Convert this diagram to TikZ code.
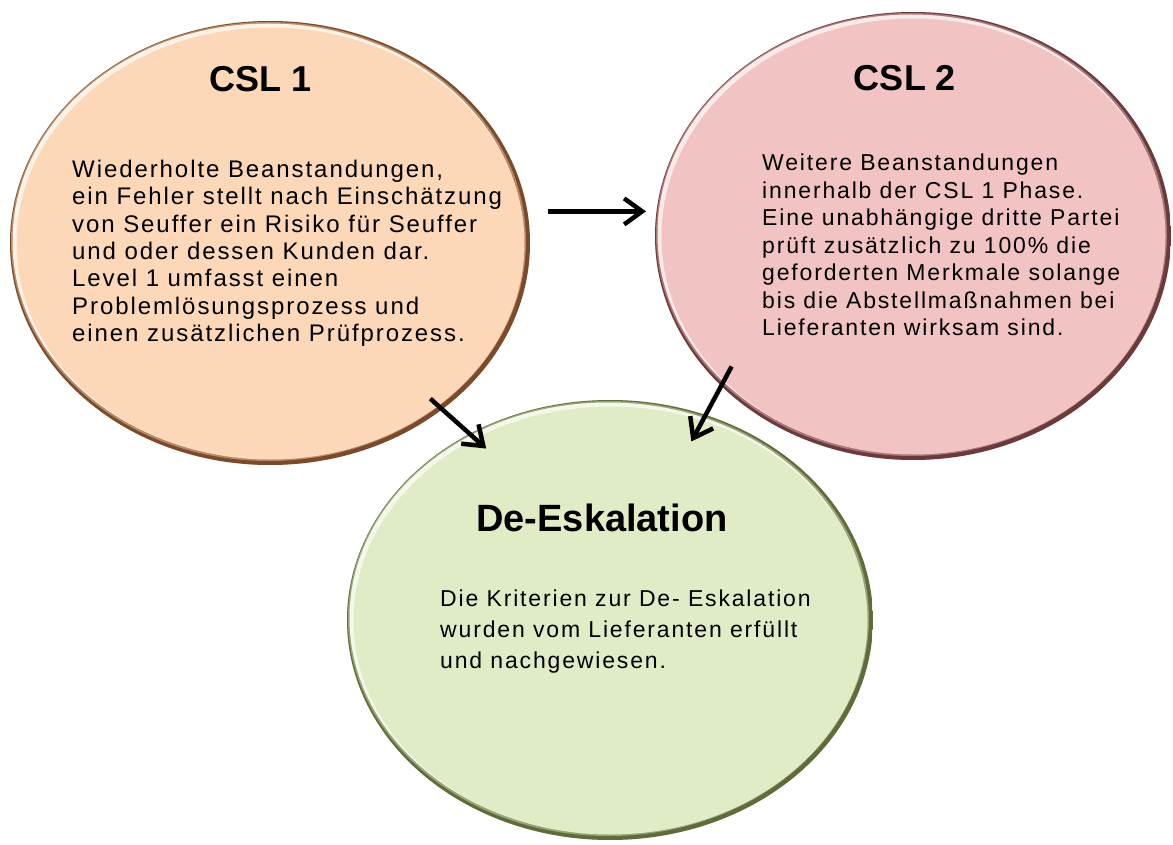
\documentclass[tikz,border=0pt]{standalone}
\usepackage{fontspec}
\setmainfont{Liberation Sans}
\newfontfamily\bodyfont[LetterSpace=8]{Liberation Sans}
\usepackage{tikz}
\usetikzlibrary{arrows.meta, positioning, shapes.geometric, calc}

\definecolor{cslonefill}{HTML}{FCD8B8}
\definecolor{cslonerim}{HTML}{7A4A2A}
\definecolor{csltwofill}{HTML}{F2C3C3}
\definecolor{csltworim}{HTML}{6B3A3C}
\definecolor{deeskfill}{HTML}{E0ECC6}
\definecolor{deeskrim}{HTML}{5F6B3A}

\begin{document}
\begin{tikzpicture}[
    x=1pt, y=-1pt,
    phase/.style 2 args={ellipse, fill=#1, inner sep=0pt, outer sep=0pt,
        path picture={
            \fill[#2] (path picture bounding box.south west) rectangle (path picture bounding box.north east);
            \fill[#1!45!#2] let \p1=($(path picture bounding box.north east)-(path picture bounding box.center)$) in
                ([shift={(-1.5,-1.5)}]path picture bounding box.center) ellipse [x radius=\x1-2.5pt, y radius=\y1-2.5pt];
            \fill[#1!35!white] let \p1=($(path picture bounding box.north east)-(path picture bounding box.center)$) in
                ([shift={(-2,-2)}]path picture bounding box.center) ellipse [x radius=\x1-4.5pt, y radius=\y1-4.5pt];
            \fill[#1] let \p1=($(path picture bounding box.north east)-(path picture bounding box.center)$) in
                ([shift={(0.5,0.5)}]path picture bounding box.center) ellipse [x radius=\x1-6pt, y radius=\y1-6pt];
        }},
    title/.style={font=\fontsize{36}{42}\selectfont\bfseries, inner sep=0pt, anchor=base},
    body/.style={font=\bodyfont\fontsize{23}{27.5}\selectfont, align=left, inner sep=0pt, anchor=north west},
    arrow/.style={-{Straight Barb[length=18pt, width=26pt]}, line width=4.5pt},
]
\useasboundingbox (0,0) rectangle (1173,845);

% the three phases
\node[phase={cslonefill}{cslonerim}, minimum width=520pt, minimum height=444pt] (csl1) at (270,243) {};
\node[phase={csltwofill}{csltworim}, minimum width=516pt, minimum height=448pt] (csl2) at (913,236) {};
\node[phase={deeskfill}{deeskrim}, minimum width=526pt, minimum height=440pt] (deesk) at (610,620) {};

% CSL 1
\node[title] (csl1title) at (261,92) {CSL 1};
\node[body, font=\bodyfont\fontsize{24}{27.3}\selectfont] (csl1text) at (72,160) {Wiederholte Beanstandungen,\\
    ein Fehler stellt nach Einschätzung\\
    von Seuffer ein Risiko für Seuffer\\
    und oder dessen Kunden dar.\\
    Level 1 umfasst einen\\
    Problemlösungsprozess und\\
    einen zusätzlichen Prüfprozess.};

% CSL 2
\node[title] (csl2title) at (905,91) {CSL 2};
\node[body] (csl2text) at (762,154) {Weitere Beanstandungen\\
    innerhalb der CSL 1 Phase.\\
    Eine unabhängige dritte Partei\\
    prüft zusätzlich zu 100\% die\\
    geforderten Merkmale solange\\
    bis die Abstellmaßnahmen bei\\
    Lieferanten wirksam sind.};

% De-Eskalation
\node[title, font=\fontsize{38}{44}\selectfont\bfseries] (deesktitle) at (602,531) {De-Eskalation};
\node[body, font=\bodyfont\fontsize{23}{31}\selectfont] (deesktext) at (440,590) {Die Kriterien zur De- Eskalation\\
    wurden vom Lieferanten erfüllt\\
    und nachgewiesen.};

% escalation and de-escalation paths
\draw[arrow, shorten <=20.6pt, shorten >=9pt] (csl1.7) -- (csl1.7 -| csl2.west);
\draw[arrow, shorten <=-16pt, shorten >=-22pt] (csl1.-44) -- (deesk.127);
\draw[arrow, shorten <=-22pt, shorten >=-30pt] (csl2.-142) -- (deesk.65);

\end{tikzpicture}
\end{document}
